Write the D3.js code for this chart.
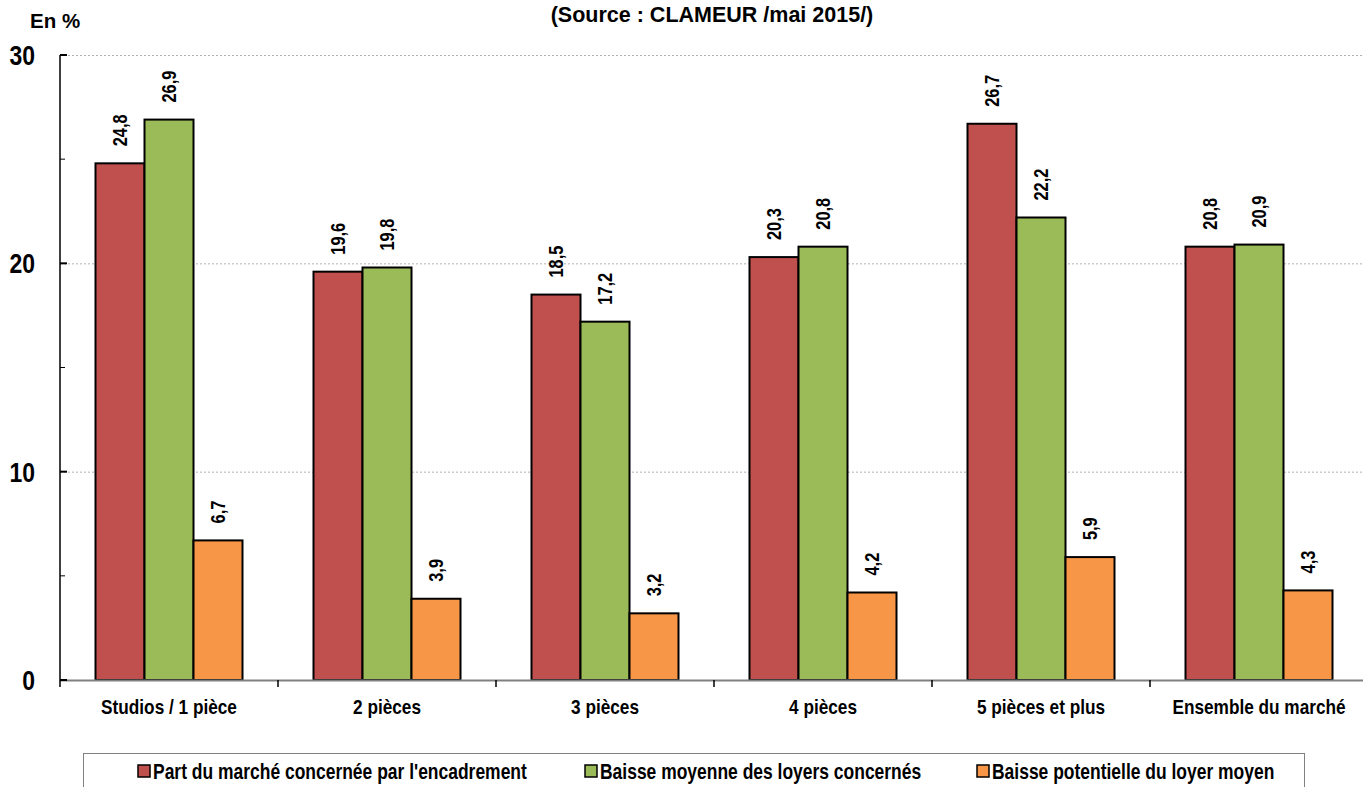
<!DOCTYPE html>
<html><head><meta charset="utf-8">
<script src="https://cdn.jsdelivr.net/npm/d3@7"></script>
<style>
body{margin:0;background:#fff;}
text{font-family:"Liberation Sans","Arial",sans-serif;font-weight:bold;fill:#000;}
</style></head>
<body><svg id="c" width="1363" height="787"></svg>
<script>
const categories=["Studios / 1 pièce","2 pièces","3 pièces","4 pièces","5 pièces et plus","Ensemble du marché"];
const seriesNames=["Part du marché concernée par l'encadrement","Baisse moyenne des loyers concernés","Baisse potentielle du loyer moyen"];
const partMarche=[24.8,19.6,18.5,20.3,26.7,20.8];
const baisseMoyenne=[26.9,19.8,17.2,20.8,22.2,20.9];
const baissePotentielle=[6.7,3.9,3.2,4.2,5.9,4.3];
const yTicks=[0,10,20,30];
const yMinorTicks=[5,15,25];
const colors=["#C0504D","#9BBB59","#F79646"];
const series=[partMarche,baisseMoyenne,baissePotentielle];

const NARROW=0.82;
const svg=d3.select("#c");
const x0=60,x1=1368,yTop=55,yBot=680;
const x=d3.scaleBand().domain(categories).range([x0,x1]).paddingInner(0).paddingOuter(0);
const y=d3.scaleLinear().domain([0,30]).range([yBot,yTop]);
const barW=49;
const xs=d3.scaleBand().domain([0,1,2]).range([0,barW*3]);

function ntext(sel,tx,ty,size,str,anchor,rot){
  return sel.append("text").attr("transform",`translate(${tx},${ty})${rot?" rotate("+rot+")":""} scale(${NARROW},1)`)
    .attr("font-size",size).attr("text-anchor",anchor||"start").text(str);
}

// gridlines
svg.append("g").selectAll("line").data(yTicks.filter(d=>d>0)).join("line")
 .attr("x1",x0).attr("x2",1363).attr("y1",d=>y(d)+0.5).attr("y2",d=>y(d)+0.5)
 .attr("stroke","#b0b0b0").attr("stroke-dasharray","2,2").attr("stroke-width",1);

// bars
const g=svg.append("g");
categories.forEach((c,i)=>{
  const gx=x(c)+(x.bandwidth()-barW*3)/2;
  series.forEach((s,j)=>{
    const v=s[i];
    const bx=gx+xs(j);
    g.append("rect").attr("x",bx).attr("y",y(v)).attr("width",barW).attr("height",y(0)-y(v))
      .attr("fill",colors[j]).attr("stroke","#000").attr("stroke-width",2);
    ntext(g,bx+barW/2+7,y(v)-17,20,d3.format(".1f")(v).replace(".",","),"start",-90);
  });
});

// x axis
const xa=svg.append("g").attr("transform",`translate(0,${yBot})`);
xa.append("line").attr("x1",x0).attr("x2",1363).attr("y1",0.5).attr("y2",0.5).attr("stroke","#808080").attr("stroke-width",2);
xa.selectAll("line.t").data(categories.slice(1)).join("line").attr("class","t")
  .attr("x1",d=>x(d)).attr("x2",d=>x(d)).attr("y1",0).attr("y2",7).attr("stroke","#000").attr("stroke-width",1.5);
categories.forEach(c=>ntext(xa,x(c)+x.bandwidth()/2,34,21,c,"middle"));

// y axis
const ya=svg.append("g");
ya.append("line").attr("x1",x0).attr("x2",x0).attr("y1",yTop).attr("y2",yBot+7).attr("stroke","#000").attr("stroke-width",1.5);
ya.selectAll("line.M").data(yTicks).join("line").attr("class","M")
  .attr("x1",x0).attr("x2",x0+7).attr("y1",d=>y(d)).attr("y2",d=>y(d)).attr("stroke","#000").attr("stroke-width",2);
ya.selectAll("line.m").data(yMinorTicks).join("line").attr("class","m")
  .attr("x1",x0).attr("x2",x0+5).attr("y1",d=>y(d)).attr("y2",d=>y(d)).attr("stroke","#000").attr("stroke-width",1);
yTicks.forEach(t=>ntext(ya,35,y(t)+10,28,String(t),"end"));

svg.append("text").attr("x",30).attr("y",28).attr("font-size",20.5).text("En %");
svg.append("text").attr("x",712).attr("y",22).attr("text-anchor","middle").attr("font-size",21.5).text("(Source : CLAMEUR /mai 2015/)");

// legend
const lg=svg.append("g");
lg.append("rect").attr("x",83.5).attr("y",753.5).attr("width",1221).attr("height",60).attr("fill","#fff").attr("stroke","#808080").attr("stroke-width",1);
const legX=[138,585,977];
seriesNames.forEach((n,j)=>{
  lg.append("rect").attr("x",legX[j]).attr("y",765).attr("width",12).attr("height",12).attr("fill",colors[j]).attr("stroke","#000").attr("stroke-width",1.5);
  ntext(lg,legX[j]+15,779,21.3,n,"start");
});
</script></body></html>
